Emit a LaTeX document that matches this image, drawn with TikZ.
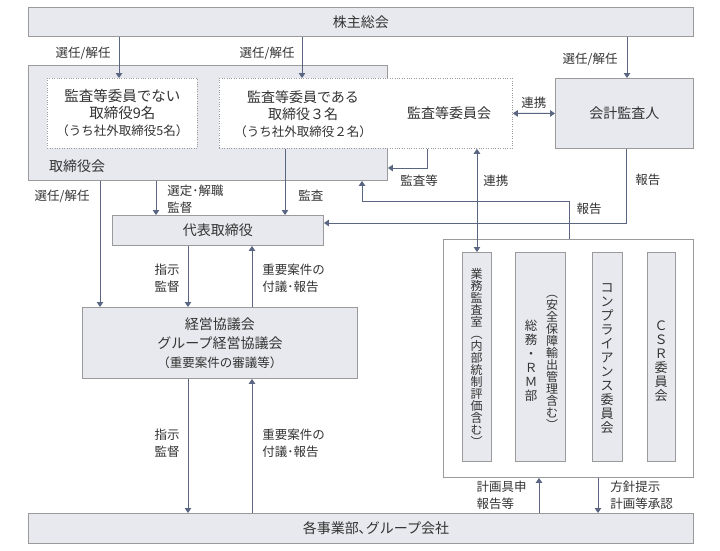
\documentclass[tikz,border=0pt]{standalone}
\usepackage{fontspec}
\setmainfont{Noto Sans CJK JP}
\usetikzlibrary{arrows.meta}

\definecolor{boxfill}{HTML}{E8E9EE}
\definecolor{boxline}{HTML}{9A9A9A}
\definecolor{arrcol}{HTML}{5A6681}
\definecolor{txt}{HTML}{333333}
\lineskiplimit=-20pt

\begin{document}
\begin{tikzpicture}[x=1pt, y=-1pt,
					panel/.style={draw=boxline, fill=boxfill, line width=0.9pt, anchor=north west, inner sep=0pt, text=txt, align=center, font=\fontsize{14}{19}\selectfont},
					dotbox/.style={panel, fill=white, dash pattern=on 0.8pt off 1.6pt, line width=0.8pt},
					plain/.style={text=txt, inner sep=0pt, align=center, font=\fontsize{14}{17}\selectfont},
					tag/.style={text=txt, inner sep=1pt, align=left, font=\fontsize{12.5}{17}\selectfont},
					tate/.style={text=txt, inner sep=0pt, align=center, font=\fontsize{12}{12}\selectfont},
					tatewide/.style={tate, font=\fontsize{13}{14}\selectfont},
					arrow/.style={draw=arrcol, line width=0.9pt, -{Triangle[length=5pt, width=6.5pt]}},
					dblarrow/.style={arrow, {Triangle[length=5pt, width=6.5pt]}-{Triangle[length=5pt, width=6.5pt]}},
				]
			        \useasboundingbox (0,0) rectangle (720,550);

			        % boxes
			        \node[panel, minimum width=665pt, minimum height=29pt] (soukai) at (28,7) {株主総会};
			        \node[panel, minimum width=359pt, minimum height=115pt] (torikai) at (28,65) {};
			        \node[plain, anchor=west] (torilbl) at (49,166) {取締役会};
			        \node[dotbox, minimum width=293pt, minimum height=70pt] (iin) at (219,78) {};
			        \node[dotbox, minimum width=150pt, minimum height=70pt, font=\fontsize{14.5}{17}\selectfont] (nashi) at (47,78) {監査等委員でない\\取締役9名\\{\fontsize{12.5}{15}\selectfont（うち社外取締役5名）}};
			        \node[plain] (aru) at (303,114) {監査等委員である\\取締役３名\\{\fontsize{12.5}{15}\selectfont（うち社外取締役２名）}};
			        \node[plain] (iintxt) at (449,113) {監査等委員会};
			        \node[panel, minimum width=138pt, minimum height=70pt] (kaikei) at (555,78) {会計監査人};
			        \node[panel, minimum width=211pt, minimum height=30pt] (daihyo) at (112,215) {代表取締役};
			        \node[panel, minimum width=275pt, minimum height=71pt] (keiei) at (82,307) {経営協議会\\グループ経営協議会\\{\fontsize{12.5}{19}\selectfont（重要案件の審議等）}};
			        \node[panel, fill=white, minimum width=250pt, minimum height=238pt] (group) at (443,239) {};
			        \node[panel, minimum width=29pt, minimum height=209pt] (gyomu) at (462,252) {};
			        \node[panel, minimum width=50pt, minimum height=209pt] (somu) at (515,252) {};
			        \node[panel, minimum width=30pt, minimum height=209pt] (comp) at (592,252) {};
			        \node[panel, minimum width=28pt, minimum height=209pt] (csr) at (647,252) {};
			        \node[panel, minimum width=665pt, minimum height=30pt] (jigyo) at (28,513) {};
			        \node[plain] (jigyotxt) at (376,528) {各事業部､グループ会社};

			        % vertical texts
			        \node[tate] (gyomutxt) at (476.5,357) {業\\務\\監\\査\\室\\︵\\内\\部\\統\\制\\評\\価\\含\\む\\︶};
			        \node[tatewide, font=\fontsize{12.5}{14}\selectfont] (somutxt) at (531,361) {総\\務\\・\\Ｒ\\Ｍ\\部};
			        \node[tate] (anzentxt) at (552,362) {︵\\安\\全\\保\\障\\輸\\出\\管\\理\\含\\む\\︶};
			        \node[tatewide] (comptxt) at (607,359) {コ\\ン\\プ\\ラ\\イ\\ア\\ン\\ス\\委\\員\\会};
			        \node[tatewide] (csrtxt) at (661,361) {Ｃ\\Ｓ\\Ｒ\\委\\員\\会};

			        % connectors
			        \draw[arrow] (soukai.south -| 119,0) -- (nashi.north -| 119,0) node[tag, midway, anchor=east, xshift=-7pt, yshift=4pt] {選任/解任};
			        \draw[arrow] (soukai.south -| 302,0) -- (iin.north -| 302,0) node[tag, midway, anchor=east, xshift=-6pt, yshift=4pt] {選任/解任};
			        \draw[arrow] (soukai.south -| 627,0) -- (kaikei.north -| 627,0) node[tag, midway, anchor=east, xshift=-8pt, yshift=-2pt] {選任/解任};
			        \draw[dblarrow] (iin.east) -- (kaikei.west) node[tag, midway, above, yshift=3pt] {連携};
			        \draw[arrow] (iin.south -| 427,0) |- (torikai.east |- 0,168);
			        \node[tag] (kansatou) at (419,181) {監査等};
			        \draw[dblarrow] (iin.south -| gyomu.north) -- (gyomu.north) node[tag, pos=0.31, anchor=west, xshift=5pt] {連携};
			        \draw[arrow] (kaikei.south -| 626,0) |- (daihyo.east |- 0,223) node[tag, pos=0.21, anchor=west, xshift=8pt] {報告};
			        \draw[arrow] (group.north -| 569,0) |- (362,201) -- (torikai.south -| 362,0);
			        \node[tag] (houkoku) at (589,209) {報告};

			        \draw[arrow] (torikai.south -| 100,0) -- (keiei.north -| 100,0) node[tag, pos=0.12, anchor=east, xshift=-9pt] {選任/解任};
			        \draw[arrow] (torikai.south -| 156,0) -- (daihyo.north -| 156,0) node[tag, midway, anchor=west, xshift=10pt, yshift=-1.5pt] {選定･解職\\監督};
			        \draw[arrow] (iin.south -| 285,0) -- (daihyo.north -| 285,0) node[tag, pos=0.7, anchor=west, xshift=12pt] {監査};
			        \draw[arrow] (daihyo.south -| 188,0) -- (keiei.north -| 188,0) node[tag, midway, anchor=east, xshift=-7pt, yshift=-2pt] {指示\\監督};
			        \draw[arrow] (keiei.north -| 252,0) -- (daihyo.south -| 252,0) node[tag, midway, anchor=west, xshift=9pt, yshift=-2pt] {重要案件の\\付議･報告};
			        \draw[arrow] (keiei.south -| 188,0) -- (jigyo.north -| 188,0) node[tag, midway, anchor=east, xshift=-7pt, yshift=3pt] {指示\\監督};
			        \draw[arrow] (jigyo.north -| 252,0) -- (keiei.south -| 252,0) node[tag, midway, anchor=west, xshift=9pt, yshift=3pt] {重要案件の\\付議･報告};
			        \draw[arrow] (jigyo.north -| 539,0) -- (group.south -| 539,0) node[tag, midway, anchor=east, xshift=-11pt] {計画具申\\報告等};
			        \draw[arrow] (group.south -| 598,0) -- (jigyo.north -| 598,0) node[tag, midway, anchor=west, xshift=11pt] {方針提示\\計画等承認};
			    \end{tikzpicture}
\end{document}
